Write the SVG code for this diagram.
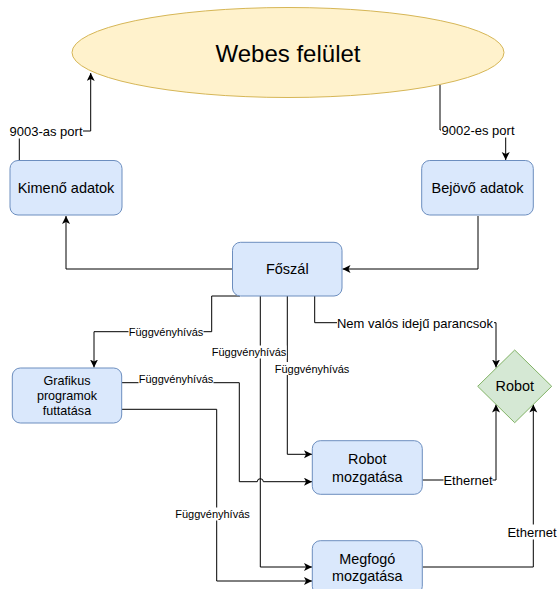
<svg xmlns="http://www.w3.org/2000/svg" width="558" height="589" viewBox="0 0 558 589">
<defs>
<style>
.box{fill:#dae8fc;stroke:#6c8ebf;stroke-width:1}
.t{font-family:"Liberation Sans",Arial,sans-serif;fill:#000;text-anchor:middle;dominant-baseline:central}
.edge{fill:none;stroke:#000;stroke-width:1}
.lbg{fill:#fff;stroke:none}
.l13{font-size:13px}
.l11{font-size:11px}
</style>
<marker id="arr" markerUnits="userSpaceOnUse" markerWidth="10" markerHeight="10" refX="8" refY="4" orient="auto">
<path d="M0,0 L8,4 L0,8 L2,4 z" fill="#000"/>
</marker>
</defs>
<rect width="558" height="589" fill="#fff"/>

<g id="connectors">
<path class="edge" d="M19.3 160 V131 H90.7 V73" marker-end="url(#arr)"/>
<path class="edge" d="M440 84.5 V130 H505.7 V160" marker-end="url(#arr)"/>
<path class="edge" d="M232 269 H66 V216" marker-end="url(#arr)"/>
<path class="edge" d="M478 216 V269 H342.5" marker-end="url(#arr)"/>
<path class="edge" d="M240 296 H211.7 V331.7 H94 V367.5" marker-end="url(#arr)"/>
<path class="edge" d="M260.3 296 V567 H312" marker-end="url(#arr)"/>
<path class="edge" d="M287.3 296 V454.3 H312" marker-end="url(#arr)"/>
<path class="edge" d="M314.7 296 V322.7 H496 V367.5" marker-end="url(#arr)"/>
<path class="edge" d="M122 382.7 H239.3 V481.7 H257.3 A3 3 0 0 1 263.3 481.7 H312" marker-end="url(#arr)"/>
<path class="edge" d="M122 409.3 H216.7 V581 H312" marker-end="url(#arr)"/>
<path class="edge" d="M422.5 480 H496 V404.5" marker-end="url(#arr)"/>
<path class="edge" d="M422.5 567 H533.3 V404.5" marker-end="url(#arr)"/>

<rect class="lbg" x="9" y="123.5" width="74" height="15"/>
<text class="t l13" x="46" y="131">9003-as port</text>
<rect class="lbg" x="441" y="122.5" width="74" height="15"/>
<text class="t l13" x="478" y="130">9002-es port</text>
<rect class="lbg" x="337" y="316" width="157" height="15"/>
<text class="t l13" x="415" y="323.5">Nem valós idejű parancsok</text>
<rect class="lbg" x="443.5" y="473" width="49" height="15"/>
<text class="t l13" x="468" y="480.5">Ethernet</text>
<rect class="lbg" x="507.5" y="524.5" width="49" height="15"/>
<text class="t l13" x="532" y="532">Ethernet</text>
<rect class="lbg" x="128.5" y="325" width="75" height="13"/>
<text class="t l11" x="166" y="331.7">Függvényhívás</text>
<rect class="lbg" x="211.5" y="345.5" width="75" height="13"/>
<text class="t l11" x="249" y="352">Függvényhívás</text>
<rect class="lbg" x="274.5" y="362" width="75" height="13"/>
<text class="t l11" x="312" y="368.7">Függvényhívás</text>
<rect class="lbg" x="138.5" y="372" width="75" height="13"/>
<text class="t l11" x="176" y="378.5">Függvényhívás</text>
<rect class="lbg" x="175" y="507.5" width="75" height="13"/>
<text class="t l11" x="212.5" y="514">Függvényhívás</text>
</g>

<g id="webes">
<ellipse cx="288" cy="52.5" rx="216" ry="45" fill="#fff2cc" stroke="#d6b656" stroke-width="1"/>
<text class="t" x="288" y="53" font-size="24">Webes felület</text>
</g>

<g id="kimeno">
<rect class="box" x="10" y="160.5" width="112" height="54.5" rx="8" ry="8"/>
<text class="t" x="66" y="188" font-size="14.5">Kimenő adatok</text>
</g>

<g id="bejovo">
<rect class="box" x="421.7" y="160.5" width="111.6" height="54.5" rx="8" ry="8"/>
<text class="t" x="477.5" y="188" font-size="14.5">Bejövő adatok</text>
</g>

<g id="foszal">
<rect class="box" x="232.5" y="242.3" width="109.5" height="53.7" rx="8" ry="8"/>
<text class="t" x="287.3" y="269" font-size="14.5">Főszál</text>
</g>

<g id="grafikus">
<rect class="box" x="12.3" y="368" width="109.4" height="55" rx="8" ry="8"/>
<text class="t" x="67" y="381" font-size="12.6">Grafikus</text>
<text class="t" x="67" y="396" font-size="12.6">programok</text>
<text class="t" x="67" y="411" font-size="12.6">futtatása</text>
</g>

<g id="robot">
<path d="M514.7 350 L551.7 386.3 L514.7 422.7 L477.7 386.3 Z" fill="#d5e8d4" stroke="#82b366" stroke-width="1"/>
<text class="t" x="514.7" y="386.3" font-size="14.4">Robot</text>
</g>

<g id="robot-mozgatasa">
<rect class="box" x="312.3" y="440.7" width="110" height="53.6" rx="8" ry="8"/>
<text class="t" x="367.3" y="459" font-size="14.4">Robot</text>
<text class="t" x="367.3" y="476.5" font-size="14.4">mozgatása</text>
</g>

<g id="megfogo-mozgatasa">
<rect class="box" x="312.3" y="540.7" width="110" height="53.6" rx="8" ry="8"/>
<text class="t" x="367.3" y="558.5" font-size="14.4">Megfogó</text>
<text class="t" x="367.3" y="576.3" font-size="14.4">mozgatása</text>
</g>
</svg>
